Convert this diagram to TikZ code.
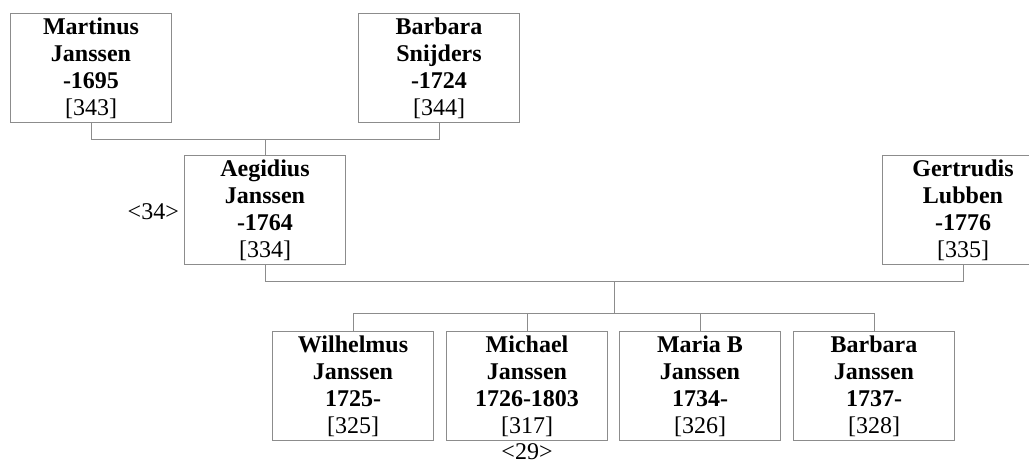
\documentclass[tikz,border=0pt]{standalone}
\usepackage{fontspec}
\setmainfont{Liberation Serif}
\usetikzlibrary{calc, positioning}
\definecolor{linegray}{RGB}{140,140,140}

\begin{document}
\begin{tikzpicture}[x=1pt, y=-1pt,
  person/.style={draw=linegray, line width=1pt, minimum width=161pt, minimum height=109pt,
    inner sep=0pt, align=center, anchor=north west, font=\fontsize{24}{27}\selectfont},
  link/.style={draw=linegray, line width=1pt},
  gen/.style={inner sep=2pt, font=\fontsize{24}{27}\selectfont}]
\useasboundingbox (0,0) rectangle (1029,464);

% grandparents
\node[person] (mart) at (10,13) {\textbf{Martinus}\\\textbf{Janssen}\\\textbf{-1695}\\{[343]}};
\node[person] (barb) at (358,13) {\textbf{Barbara}\\\textbf{Snijders}\\\textbf{-1724}\\{[344]}};

% parents
\node[person] (aeg) at (184,155) {\textbf{Aegidius}\\\textbf{Janssen}\\\textbf{-1764}\\{[334]}};
\node[person] (gert) at (882,155) {\textbf{Gertrudis}\\\textbf{Lubben}\\\textbf{-1776}\\{[335]}};
\node[gen, anchor=east] (gen34) at ($(aeg.west)+(-3,2)$) {<34>};

% children
\node[person] (c1) at (272,331) {\textbf{Wilhelmus}\\\textbf{Janssen}\\\textbf{1725-}\\{[325]}};
\node[person] (c2) at (446,331) {\textbf{Michael}\\\textbf{Janssen}\\\textbf{1726-1803}\\{[317]}};
\node[person] (c3) at (619,331) {\textbf{Maria B}\\\textbf{Janssen}\\\textbf{1734-}\\{[326]}};
\node[person] (c4) at (793,331) {\textbf{Barbara}\\\textbf{Janssen}\\\textbf{1737-}\\{[328]}};
\node[gen, anchor=north] (gen29) at (c2.south) {<29>};

% family lines
\draw[link] (mart.south) -- ++(0,16) -| (barb.south);
\coordinate (fam1) at ($(mart.south)!0.5!(barb.south)+(0,16)$);
\draw[link] (fam1) -- (aeg.north);

\draw[link] (aeg.south) -- ++(0,16) -| (gert.south);
\coordinate (fam2) at ($(aeg.south)!0.5!(gert.south)+(0,16)$);
\coordinate (bar) at ($(c1.north)+(0,-18)$);
\draw[link] (fam2) -- (fam2 |- bar);
\draw[link] (c1.north) -- (bar) -| (c4.north);
\foreach \k in {c2,c3}
    \draw[link] (\k.north) -- ++(0,-18);
\end{tikzpicture}
\end{document}
